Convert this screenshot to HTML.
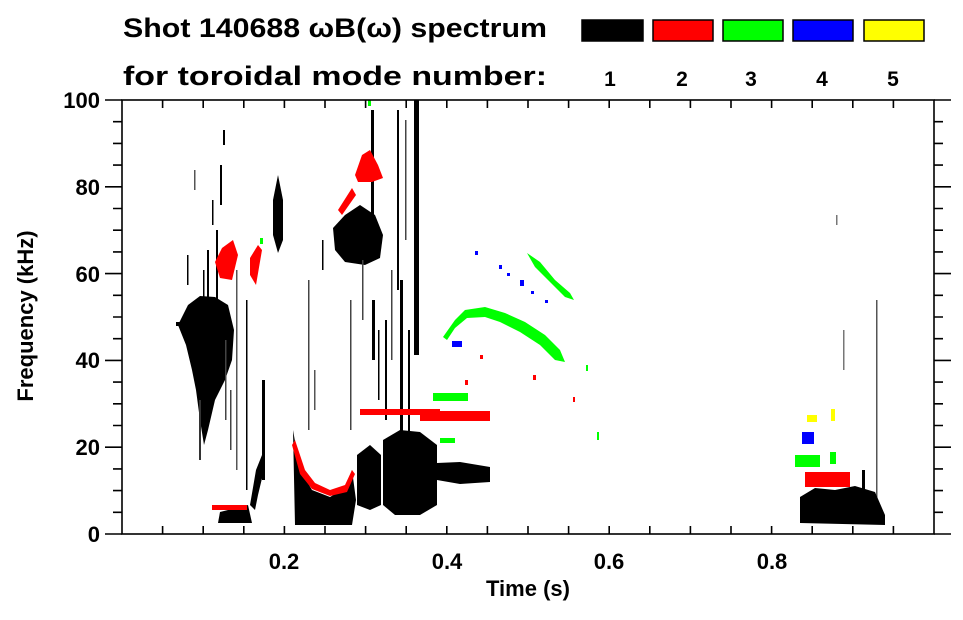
<!DOCTYPE html>
<html><head><meta charset="utf-8"><style>
html,body{margin:0;padding:0;background:#fff;}
body{width:963px;height:615px;overflow:hidden;}
svg text{font-family:"Liberation Sans",sans-serif;font-weight:bold;fill:#000;}
</style></head><body>
<svg width="963" height="615" viewBox="0 0 963 615" xmlns="http://www.w3.org/2000/svg">
<rect width="963" height="615" fill="#fff"/>
<!-- header -->
<text x="123" y="37" font-size="27" textLength="424" lengthAdjust="spacingAndGlyphs">Shot 140688 ωB(ω) spectrum</text>
<text x="123" y="85" font-size="27" textLength="424" lengthAdjust="spacingAndGlyphs">for toroidal mode number:</text>
<g stroke="#000" stroke-width="1.5">
<rect x="582" y="20" width="61" height="21" fill="#000"/>
<rect x="653" y="20" width="60" height="21" fill="#f00"/>
<rect x="723" y="20" width="60" height="21" fill="#0f0"/>
<rect x="793" y="20" width="60" height="21" fill="#00f"/>
<rect x="864" y="20" width="60" height="21" fill="#ff0"/>
</g>
<g font-size="21" text-anchor="middle">
<text x="610" y="86">1</text><text x="682" y="86">2</text><text x="751" y="86">3</text><text x="822" y="86">4</text><text x="893" y="86">5</text>
</g>

<!-- data -->
<g fill="#000">
<path d="M178,325 L188,305 L200,296 L215,297 L228,305 L234,330 L232,360 L225,380 L215,400 L208,430 L204,445 L200,420 L196,390 L192,370 L186,345 Z"/>
<rect x="176" y="322" width="12" height="4"/>
<rect x="199" y="400" width="2" height="60" fill="#333"/>
<rect x="207" y="250" width="2" height="60"/>
<rect x="216" y="230" width="2" height="90"/>
<rect x="236" y="270" width="1.5" height="200" fill="#555"/>
<rect x="246" y="300" width="1.5" height="190"/>
<rect x="220" y="165" width="2" height="40"/>
<rect x="223" y="130" width="2" height="15"/>
<rect x="203" y="270" width="1.5" height="30"/>
<rect x="212" y="200" width="1.5" height="25"/>
<rect x="187" y="255" width="1.5" height="30"/>
<rect x="194" y="170" width="1.5" height="20" fill="#555"/>
<rect x="225" y="340" width="1.5" height="80" fill="#444"/>
<rect x="230" y="390" width="1.5" height="60" fill="#444"/>
<path d="M250,505 L256,470 L262,455 L265,445 L264,470 L258,495 L255,510 Z"/>
<rect x="262" y="380" width="3" height="100"/>
<path d="M220,512 L248,505 L252,523 L218,523 Z"/>
<path d="M273,200 L278,175 L283,200 L283,240 L278,253 L273,235 Z"/>
<path d="M293,430 L300,470 L312,490 L330,497 L345,488 L352,470 L356,500 L352,525 L295,525 Z"/>
<path d="M357,455 L370,445 L381,455 L381,505 L370,510 L357,505 Z"/>
<path d="M383,440 L400,430 L420,432 L437,445 L437,505 L420,515 L395,515 L383,505 Z"/>
<path d="M437,463 L460,462 L490,467 L490,482 L460,484 L437,480 Z"/>
<path d="M333,228 L345,215 L360,205 L375,215 L383,235 L380,258 L365,265 L345,262 L335,250 Z"/>
<rect x="414" y="100" width="5" height="255"/>
<rect x="371" y="110" width="3" height="150"/>
<rect x="397" y="110" width="2" height="180"/>
<rect x="400" y="280" width="3" height="170"/>
<rect x="372" y="300" width="3" height="60"/>
<rect x="350" y="300" width="1.5" height="130" fill="#444"/>
<rect x="385" y="320" width="2" height="100"/>
<rect x="408" y="330" width="2" height="110"/>
<rect x="308" y="280" width="1.5" height="150" fill="#444"/>
<rect x="391" y="270" width="1.5" height="90" fill="#444"/>
<rect x="405" y="120" width="1.5" height="120" fill="#444"/>
<rect x="378" y="330" width="1.5" height="70"/>
<rect x="362" y="260" width="1.5" height="60" fill="#444"/>
<rect x="322" y="240" width="1.5" height="30"/>
<rect x="314" y="370" width="1.5" height="40" fill="#555"/>
<rect x="862" y="470" width="3" height="50"/>
<rect x="876" y="300" width="1.5" height="210" fill="#555"/>
<rect x="843" y="330" width="1.5" height="40" fill="#777"/>
<rect x="836" y="215" width="1.5" height="10" fill="#777"/>
<path d="M800,497 L815,488 L835,490 L855,486 L875,492 L885,515 L885,525 L800,523 Z"/>
</g>
<g fill="#f00">
<path d="M295,440 L305,470 L315,483 L330,490 L345,485 L352,470 L355,474 L347,492 L330,496 L312,489 L300,474 L292,445 Z"/>
<rect x="360" y="409" width="80" height="6"/>
<rect x="420" y="411" width="70" height="10"/>
<path d="M355,175 L362,155 L370,150 L378,165 L383,178 L372,182 L358,182 Z"/>
<path d="M338,210 L352,188 L356,195 L342,215 Z"/>
<path d="M215,262 L222,248 L233,240 L238,255 L232,280 L220,278 Z"/>
<path d="M250,258 L258,245 L262,250 L256,285 L250,275 Z"/>
<rect x="212" y="505" width="35" height="5"/>
<rect x="805" y="472" width="45" height="15"/>
<rect x="465" y="380" width="3" height="5"/><rect x="533" y="375" width="3" height="5"/>
<rect x="480" y="355" width="3" height="4"/><rect x="573" y="397" width="2" height="5"/>
</g>
<g fill="#0f0">
<path d="M443,337 L455,320 L465,310 L485,307 L505,313 L525,322 L545,335 L560,350 L565,362 L555,360 L540,345 L520,332 L500,322 L485,317 L467,318 L455,328 L447,340 Z"/>
<path d="M527,253 L540,262 L555,280 L570,293 L574,300 L565,297 L550,282 L535,267 Z"/>
<rect x="433" y="393" width="35" height="8"/>
<rect x="440" y="438" width="15" height="5"/>
<rect x="795" y="455" width="25" height="12"/>
<rect x="830" y="452" width="6" height="12"/>
<rect x="368" y="100" width="3" height="6"/>
<rect x="586" y="365" width="2" height="6"/><rect x="597" y="432" width="2" height="8"/>
<rect x="260" y="238" width="3" height="6"/>
</g>
<g fill="#00f">
<rect x="475" y="251" width="3" height="4"/><rect x="499" y="265" width="3" height="4"/>
<rect x="507" y="273" width="3" height="3"/><rect x="520" y="280" width="4" height="6"/>
<rect x="531" y="291" width="3" height="3"/><rect x="545" y="300" width="3" height="3"/>
<rect x="452" y="341" width="10" height="6"/>
<rect x="802" y="432" width="12" height="12"/>
</g>
<g fill="#ff0">
<rect x="807" y="415" width="10" height="7"/><rect x="831" y="409" width="4" height="12"/>
</g>

<!-- axes -->
<g stroke="#000" stroke-width="1.6" fill="none">
<rect x="122" y="100" width="812" height="434"/>
<path d="M105,100H122 M105,186.8H122 M105,273.6H122 M105,360.4H122 M105,447.2H122 M105,534H122"/>
<path d="M934,100H951 M934,186.8H951 M934,273.6H951 M934,360.4H951 M934,447.2H951 M934,534H951"/>
<path d="M113,121.7H122 M113,143.4H122 M113,165.1H122 M113,208.5H122 M113,230.2H122 M113,251.9H122 M113,295.3H122 M113,317H122 M113,338.7H122 M113,382.1H122 M113,403.8H122 M113,425.5H122 M113,468.9H122 M113,490.6H122 M113,512.3H122"/>
<path d="M934,121.7H943 M934,143.4H943 M934,165.1H943 M934,208.5H943 M934,230.2H943 M934,251.9H943 M934,295.3H943 M934,317H943 M934,338.7H943 M934,382.1H943 M934,403.8H943 M934,425.5H943 M934,468.9H943 M934,490.6H943 M934,512.3H943"/>
<path d="M162.6,534V526 M203.2,534V526 M243.8,534V526 M284.4,534V526 M325,534V526 M365.6,534V526 M406.2,534V526 M446.8,534V526 M487.4,534V526 M528,534V526 M568.6,534V526 M609.2,534V526 M649.8,534V526 M690.4,534V526 M731,534V526 M771.6,534V526 M812.2,534V526 M852.8,534V526 M893.4,534V526"/>
<path d="M162.6,100V108 M203.2,100V108 M243.8,100V108 M284.4,100V108 M325,100V108 M365.6,100V108 M406.2,100V108 M446.8,100V108 M487.4,100V108 M528,100V108 M568.6,100V108 M609.2,100V108 M649.8,100V108 M690.4,100V108 M731,100V108 M771.6,100V108 M812.2,100V108 M852.8,100V108 M893.4,100V108"/>
</g>
<g font-size="22" text-anchor="end">
<text x="100" y="108">100</text><text x="100" y="195">80</text><text x="100" y="282">60</text>
<text x="100" y="368">40</text><text x="100" y="455">20</text><text x="100" y="542">0</text>
</g>
<g font-size="22" text-anchor="middle">
<text x="284" y="569">0.2</text><text x="447" y="569">0.4</text><text x="609" y="569">0.6</text><text x="772" y="569">0.8</text>
<text x="528" y="596">Time (s)</text>
</g>
<text font-size="22" text-anchor="middle" transform="translate(33,316) rotate(-90)">Frequency (kHz)</text>
</svg>
</body></html>
